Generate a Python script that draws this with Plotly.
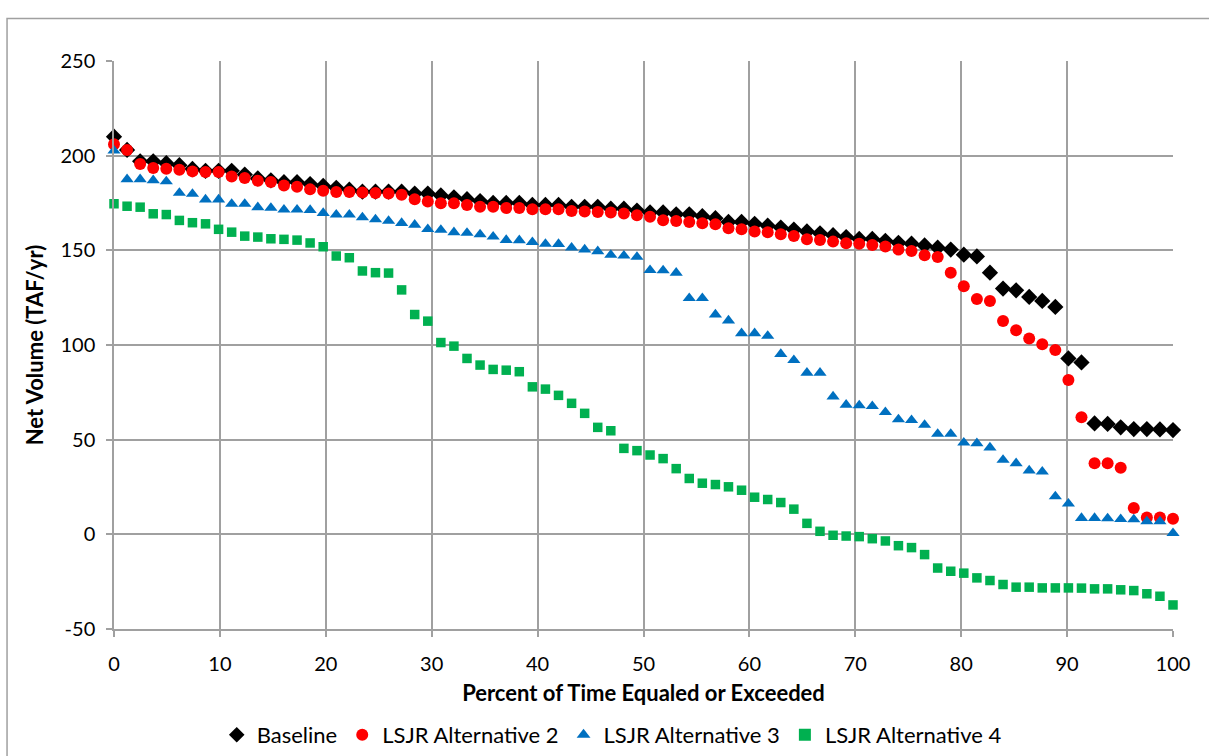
import plotly.graph_objects as go

n_points = 82
percent = [i * 100.0 / (n_points - 1) for i in range(n_points)]

baseline = [210, 203, 197, 197, 196, 195, 193, 192, 192, 192,
            190, 188, 187, 186, 186, 185, 184, 183, 182, 181,
            181, 181, 181, 180, 180, 179, 178, 177, 176, 175,
            175, 175, 174, 174, 174, 173, 173, 173, 172, 172,
            171, 170, 170, 169, 169, 168, 167, 165, 165, 164,
            163, 162, 161, 160, 159, 158, 157, 156, 156, 155,
            154, 153.5, 152.6, 151.4, 150.4, 147.7, 146.8, 138.2, 129.8, 128.9,
            125.4, 123.3, 120.1, 92.9, 90.8, 58.6, 58.3, 56.5, 55.6, 55.6,
            55.4, 55.1]

alt2 = [206, 203, 195.6, 193.5, 193.1, 192.6, 191.7, 191.4, 191.4, 189,
        188.2, 186.8, 186.1, 184.3, 183.6, 182.2, 181.5, 180.8, 180.8, 180.5,
        180.3, 180, 179.3, 177, 175.8, 174.9, 174.9, 174, 173, 173,
        172.3, 172.3, 171.7, 171.7, 171.7, 170.8, 170.5, 170.3, 170, 169.5,
        168.5, 167.7, 165.9, 165.5, 165, 164.3, 163.8, 161.7, 161.1, 159.9,
        159.5, 158.5, 157.6, 155.8, 155.5, 154.6, 153.7, 153.5, 152.8, 152,
        150.4, 149.6, 147.4, 146.5, 138.2, 131, 124.3, 123.3, 112.7, 107.8,
        103.4, 100.4, 97.3, 81.5, 61.8, 37.5, 37.5, 35.2, 13.9, 8.9,
        8.9, 8.2]

alt3 = [202.6, 187.5, 187.5, 187, 186.4, 180.3, 179.8, 176.8, 176.8, 174.5,
        174.5, 172.7, 172.4, 171.5, 171.5, 171.3, 169.7, 168.8, 168.8, 167.4,
        166.3, 165.5, 164.4, 163.5, 161.2, 160.8, 159.5, 159.2, 158.4, 157.2,
        155.4, 155.3, 154.3, 153.4, 153.3, 151.4, 150.4, 149.5, 147.6, 147.2,
        146.5, 139.5, 139.4, 138.1, 124.7, 124.7, 116.1, 112.9, 106.2, 106.2,
        104.8, 95.2, 92.0, 85.3, 85.3, 72.8, 68.4, 68.1, 67.7, 64.5,
        60.7, 60.3, 57.8, 53, 53, 48.4, 48.1, 45.8, 39.3, 37.5,
        33.7, 33.1, 20, 16.2, 8.6, 8.6, 8.4, 8, 7.9, 6.8,
        6.8, 0.6]

alt4 = [174.6, 173.3, 172.8, 169.3, 168.9, 165.8, 164.6, 164, 161.1, 159.6,
        157.5, 157, 156.1, 155.8, 155.4, 153.9, 151.9, 147, 146.1, 139.1,
        138.2, 138, 129.1, 116.1, 112.6, 101.3, 99.4, 92.9, 89.4, 87.1,
        86.7, 85.9, 77.9, 76.7, 73.4, 69.2, 63.9, 56.5, 54.7, 45.4,
        44.2, 41.9, 40, 34.7, 29.5, 27, 26.3, 25.1, 23.3, 19.6,
        18.4, 16.8, 13.3, 5.8, 1.6, -0.5, -0.9, -1.2, -2.3, -3.5,
        -6, -7, -10.7, -17.8, -19.5, -20.5, -23, -24.4, -26.5, -27.9,
        -27.9, -28.3, -28.3, -28.3, -28.4, -28.8, -28.8, -29.3, -29.7, -31.4,
        -32.7, -37.3]

series_names = ["Baseline", "LSJR Alternative 2", "LSJR Alternative 3", "LSJR Alternative 4"]
x_ticks = [0, 10, 20, 30, 40, 50, 60, 70, 80, 90, 100]
y_ticks = [-50, 0, 50, 100, 150, 200, 250]

FONT = "Lato, 'Open Sans', sans-serif"
GRID = "#A0A0A0"

styles = [
    dict(symbol="diamond", size=12.5, color="#000000"),
    dict(symbol="circle", size=12, color="#FF0000"),
    dict(symbol="triangle-up", size=11.5, color="#0070C0"),
    dict(symbol="square", size=9.5, color="#00B050"),
]

fig = go.Figure()
for name, vals, st in zip(series_names, [baseline, alt2, alt3, alt4], styles):
    fig.add_trace(go.Scatter(
        x=percent, y=vals, mode="markers", name=name, cliponaxis=False,
        marker=dict(symbol=st["symbol"], size=st["size"], color=st["color"],
                    line=dict(width=0)),
    ))

fig.update_layout(
    width=1209, height=756,
    margin=dict(l=114, r=36, t=61, b=127, autoexpand=False),
    paper_bgcolor="white", plot_bgcolor="white",
    font=dict(family=FONT, size=20, color="#000000"),
    showlegend=True,
    legend=dict(orientation="h", x=0.470, xanchor="center", y=-0.1866, yanchor="middle",
                font=dict(family=FONT, size=22), itemsizing="constant",
                traceorder="normal", bgcolor="rgba(0,0,0,0)"),
    shapes=[dict(type="rect", xref="paper", yref="paper",
                 x0=-0.101, x1=1.05, y0=-0.35, y1=1.075,
                 line=dict(color="#A0A0A0", width=1.5), fillcolor="rgba(0,0,0,0)",
                 layer="below")],
)

fig.update_xaxes(
    range=[0, 100], tickvals=x_ticks, ticktext=[str(v) for v in x_ticks],
    showgrid=True, gridcolor=GRID, gridwidth=1.5, zeroline=False,
    showline=True, linecolor=GRID, linewidth=1.5,
    ticks="outside", ticklen=6, tickcolor=GRID, tickwidth=1.5,
    ticklabelstandoff=10,
    title=dict(text="<b>Percent of Time Equaled or Exceeded</b>",
               font=dict(family=FONT, size=22), standoff=12),
)
fig.update_yaxes(
    range=[-50, 250], tickvals=y_ticks, ticktext=[str(v) for v in y_ticks],
    showgrid=True, gridcolor=GRID, gridwidth=1.5, zeroline=False,
    showline=True, linecolor=GRID, linewidth=1.5,
    ticks="outside", ticklen=6, tickcolor=GRID, tickwidth=1.5,
    ticklabelstandoff=7,
    title=dict(text="<b>Net Volume (TAF/yr)</b>",
               font=dict(family=FONT, size=22), standoff=11),
)

fig.write_html("out.html", config={"displayModeBar": False},
               post_script="document.body.style.margin='0px';")
